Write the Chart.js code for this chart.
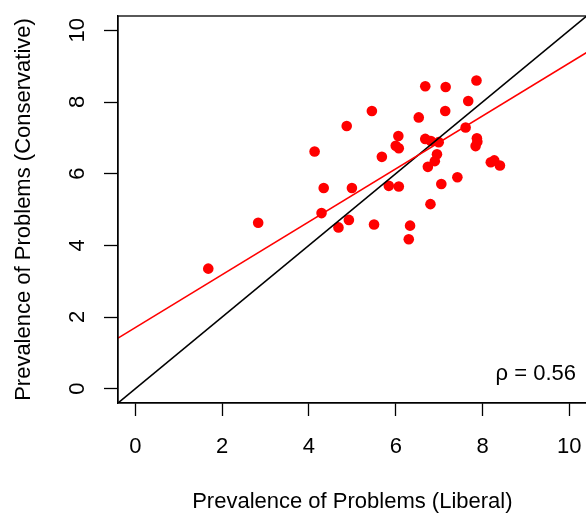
<!DOCTYPE html>
<html>
<head>
<meta charset="utf-8">
<script src="https://cdn.jsdelivr.net/npm/chart.js@4/dist/chart.umd.min.js"></script>
<style>
  html, body { margin: 0; padding: 0; background: #fff; overflow: hidden; }
  #wrap { width: 586px; height: 515px; overflow: hidden; }
</style>
</head>
<body>
<div id="wrap"><canvas id="plot" width="592" height="515"></canvas></div>
<script>
// Prevalence of problems, per item: liberal (x) vs conservative (y)
const liberal = [1.68, 2.83, 4.13, 4.34, 4.29, 4.68, 4.87, 4.92, 4.99, 5.45, 5.50,
                 5.68, 5.84, 6.00, 6.07, 6.06, 6.07, 6.30, 6.33, 6.53, 6.68, 6.68,
                 6.81, 6.99, 6.95, 6.90, 6.74, 6.80, 7.05, 7.15, 7.14, 7.42, 7.61,
                 7.67, 7.86, 7.87, 7.88, 7.84, 8.19, 8.27, 8.40];
const conservative = [3.35, 4.63, 6.62, 5.60, 4.90, 4.50, 7.33, 4.71, 5.60, 7.75, 4.58,
                      6.47, 5.66, 6.78, 6.71, 7.05, 5.64, 4.17, 4.55, 7.57, 8.44, 6.97,
                      6.91, 6.88, 6.54, 6.35, 6.19, 5.15, 5.71, 8.42, 7.75, 5.90, 7.29,
                      8.03, 8.60, 6.99, 6.89, 6.77, 6.32, 6.37, 6.23];

// fitted line and the identity line
const fitX = [-0.4, 10.4];
const fitY = [1.41, 9.38];
const idX = [-0.4, 10.4];
const idY = [-0.4, 10.4];

const tickValues = [0, 2, 4, 6, 8, 10];
const rhoLabel = 'ρ = 0.56';

const FONT = '"Liberation Sans", Arial, Helvetica, sans-serif';
const toPoints = (xs, ys) => xs.map((x, i) => ({ x: x, y: ys[i] }));

// box around the plot + rho text
const boxPlugin = {
    id: 'box',
    afterDraw(chart) {
        const { ctx, chartArea: a } = chart;
        ctx.save();
        ctx.strokeStyle = '#000';
        ctx.lineWidth = 1.3;
        ctx.strokeRect(a.left, a.top, a.right - a.left, a.bottom - a.top);
        ctx.fillStyle = '#000';
        ctx.font = '22px ' + FONT;
        ctx.textAlign = 'right';
        ctx.textBaseline = 'middle';
        ctx.fillText(rhoLabel, 576, a.bottom - 29);
        ctx.restore();
    }
};

new Chart(document.getElementById('plot'), {
    type: 'scatter',
    data: {
        datasets: [
            {
                data: toPoints(fitX, fitY),
                showLine: true,
                borderColor: '#ff0000',
                borderWidth: 1.6,
                pointRadius: 0,
                order: 0
            },
            {
                data: toPoints(idX, idY),
                showLine: true,
                borderColor: '#000000',
                borderWidth: 1.6,
                pointRadius: 0,
                order: 1
            },
            {
                data: toPoints(liberal, conservative),
                backgroundColor: '#ff0000',
                borderWidth: 0,
                pointRadius: 5.3,
                order: 2
            }
        ]
    },
    options: {
        responsive: false,
        animation: false,
        events: [],
        layout: { padding: { top: 16, right: 1, left: 0, bottom: 0 } },
        plugins: { legend: { display: false }, tooltip: { enabled: false } },
        scales: {
            x: {
                type: 'linear',
                min: -0.4,
                max: 10.4,
                afterBuildTicks: s => { s.ticks = tickValues.map(v => ({ value: v })); },
                afterFit: s => { s.height = 112; s.paddingLeft = 0; s.paddingRight = 0; },
                grid: { drawOnChartArea: false, drawTicks: true, tickLength: 13, tickColor: '#000', tickWidth: 1.3 },
                border: { display: true, color: '#000', width: 1.3 },
                ticks: { color: '#000', font: { family: FONT, size: 22 }, padding: 18, maxRotation: 0 },
                title: {
                    display: true,
                    text: 'Prevalence of Problems (Liberal)',
                    color: '#000',
                    font: { family: FONT, size: 22 },
                    padding: { top: 0, bottom: 0 }
                }
            },
            y: {
                type: 'linear',
                min: -0.4,
                max: 10.4,
                afterBuildTicks: s => { s.ticks = tickValues.map(v => ({ value: v })); },
                afterFit: s => { s.width = 118; s.paddingTop = 0; s.paddingBottom = 0; },
                grid: { drawOnChartArea: false, drawTicks: true, tickLength: 14, tickColor: '#000', tickWidth: 1.3 },
                border: { display: true, color: '#000', width: 1.3 },
                ticks: { color: '#000', font: { family: FONT, size: 22 }, padding: 14, minRotation: 90, maxRotation: 90, crossAlign: 'center' },
                title: {
                    display: true,
                    text: 'Prevalence of Problems (Conservative)',
                    color: '#000',
                    font: { family: FONT, size: 22 },
                    padding: { top: 11, bottom: 0 }
                }
            }
        }
    },
    plugins: [boxPlugin]
});
</script>
</body>
</html>
